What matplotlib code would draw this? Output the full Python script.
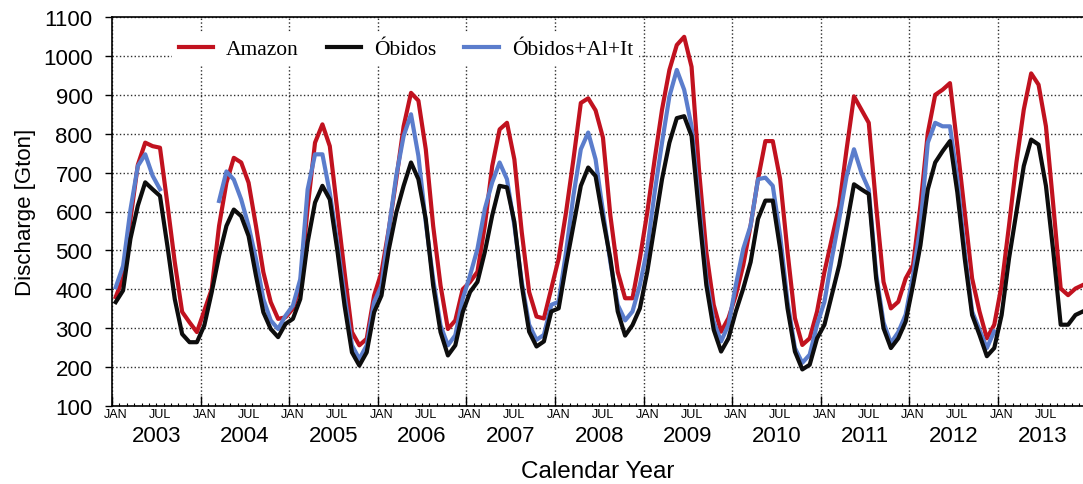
import numpy as np
import matplotlib.pyplot as plt
from matplotlib.transforms import blended_transform_factory

plt.rcParams['font.family'] = ['Liberation Sans', 'DejaVu Sans']

nan = np.nan

# monthly discharge [Gton], Jan 2003 .. Dec 2013
amazon = [
    380, 430, 580, 720, 777, 768, 764, 620, 470, 342, 315, 290,   # 2003
    345, 400, 563, 674, 738, 726, 674, 563, 444, 367, 324, 328,   # 2004
    350, 410, 610, 777, 824, 768, 606, 444, 290, 256, 273, 384,   # 2005
    444, 555, 682, 819, 905, 885, 760, 563, 410, 298, 320, 400,   # 2006
    419, 445, 564, 717, 811, 828, 734, 547, 393, 330, 325, 402,   # 2007
    479, 598, 734, 879, 891, 860, 790, 590, 445, 377, 377, 479,   # 2008
    598, 734, 862, 964, 1028, 1049, 972, 709, 496, 360, 291, 326, # 2009
    385, 462, 564, 683, 781, 781, 683, 496, 326, 257, 274, 343,   # 2010
    445, 530, 615, 760, 896, 862, 828, 615, 419, 351, 368, 428,   # 2011
    462, 615, 802, 900, 913, 930, 768, 598, 428, 343, 274, 309,   # 2012
    411, 564, 726, 862, 955, 926, 819, 615, 402, 385, 402, 411,   # 2013
]

obidos = [
    367, 397, 530, 615, 675, 657, 640, 512, 375, 285, 264, 264,
    307, 392, 486, 563, 605, 588, 537, 435, 341, 298, 277, 311,
    324, 375, 521, 623, 666, 631, 503, 358, 238, 204, 238, 341,
    384, 503, 597, 666, 726, 683, 580, 410, 290, 230, 256, 341,
    393, 419, 496, 590, 666, 662, 573, 410, 291, 253, 266, 343,
    351, 462, 564, 666, 713, 691, 581, 479, 343, 281, 308, 351,
    445, 564, 683, 777, 840, 845, 794, 598, 411, 296, 240, 274,
    343, 402, 470, 581, 628, 628, 504, 351, 240, 194, 206, 274,
    309, 385, 462, 564, 670, 657, 645, 428, 300, 249, 274, 317,
    411, 513, 657, 726, 755, 781, 649, 479, 334, 283, 228, 249,
    334, 479, 598, 717, 785, 772, 666, 496, 309, 309, 334, 343,
]

obidos_al_it = [
    405, 460, 605, 717, 747, 692, 657, nan, nan, nan, nan, nan,
    nan, nan, 627, 703, 682, 631, 563, 478, 375, 320, 298, 332,
    358, 426, 657, 747, 747, 648, 521, 384, 256, 221, 256, 367,
    410, 555, 692, 794, 850, 743, 572, 426, 307, 256, 282, 375,
    436, 504, 607, 675, 726, 683, 564, 419, 309, 270, 283, 360,
    368, 496, 641, 760, 803, 734, 600, 470, 360, 320, 343, 411,
    504, 649, 777, 896, 964, 913, 819, 623, 428, 317, 266, 309,
    411, 504, 564, 683, 687, 666, 538, 368, 249, 211, 232, 309,
    368, 479, 581, 691, 760, 700, 657, 440, 315, 262, 290, 335,
    436, 564, 777, 828, 819, 819, 683, 496, 343, 296, 249, 292,
    nan, nan, nan, nan, nan, nan, nan, nan, nan, nan, nan, nan,
]

years = list(range(2003, 2014))
y_ticks = list(range(100, 1101, 100))

# decimal year at the middle of each month
month_idx = np.arange(len(amazon))
t = years[0] + (month_idx + 0.5) / 12.0

fig = plt.figure(figsize=(10.83, 4.85), dpi=100)
ax = fig.add_axes([112/1083, 78/485, 971/1083, 389/485])

ax.plot(t, amazon, color='#c1121f', lw=3.0, label='Amazon', zorder=3)
ax.plot(t, obidos_al_it, color='#5b7dcc', lw=3.0, label='Óbidos+Al+It', zorder=4)
ax.plot(t, obidos, color='#0d0d0d', lw=3.0, label='Óbidos', zorder=5)

ax.set_xlim(2003, 2013.96)
ax.set_ylim(100, 1100)
ax.set_yticks(y_ticks)
ax.set_xticks(years)
ax.set_xticks(years[0] + np.arange(0, 12 * len(years)) / 12.0, minor=True)
ax.set_xticklabels([])

ax.grid(True, which='major', ls=':', color='#2e2e2e', lw=1.0)
ax.tick_params(axis='y', direction='out', length=5, width=1, labelsize=16, pad=9)
ax.tick_params(axis='x', which='major', direction='in', length=7, width=1)
ax.tick_params(axis='x', which='minor', direction='in', length=2, width=0.8)
ax.spines['right'].set_visible(False)
for s in ['left', 'bottom', 'top']:
    ax.spines[s].set_linewidth(1.2)

# month and year labels under the axis
trans = blended_transform_factory(ax.transData, ax.transAxes)
for yr in years:
    ax.text(yr + 0.5/12, -0.021, 'JAN', transform=trans, ha='center', va='center', fontsize=9)
    ax.text(yr + 6.5/12, -0.021, 'JUL', transform=trans, ha='center', va='center', fontsize=9)
    ax.text(yr + 0.5, -0.077, str(yr), transform=trans, ha='center', va='center', fontsize=16)

ax.set_xlabel('Calendar Year', fontsize=17.5, va='center')
ax.xaxis.set_label_coords(0.5, -0.168)
ax.set_ylabel('Discharge [Gton]', fontsize=16)
ax.yaxis.set_label_coords(-0.078, 0.5)

handles, labels = ax.get_legend_handles_labels()
order = [0, 2, 1]
leg = ax.legend([handles[i] for i in order], [labels[i] for i in order],
                loc='upper left', bbox_to_anchor=(0.062, 0.960), ncol=3,
                frameon=True, fancybox=False, framealpha=1, edgecolor='none',
                borderpad=0.3, borderaxespad=0, handlelength=1.6,
                handletextpad=0.6, columnspacing=1.3,
                prop={'family': 'Liberation Serif', 'size': 15.5})
leg.set_zorder(6)

fig.savefig('out.png', dpi=100)
